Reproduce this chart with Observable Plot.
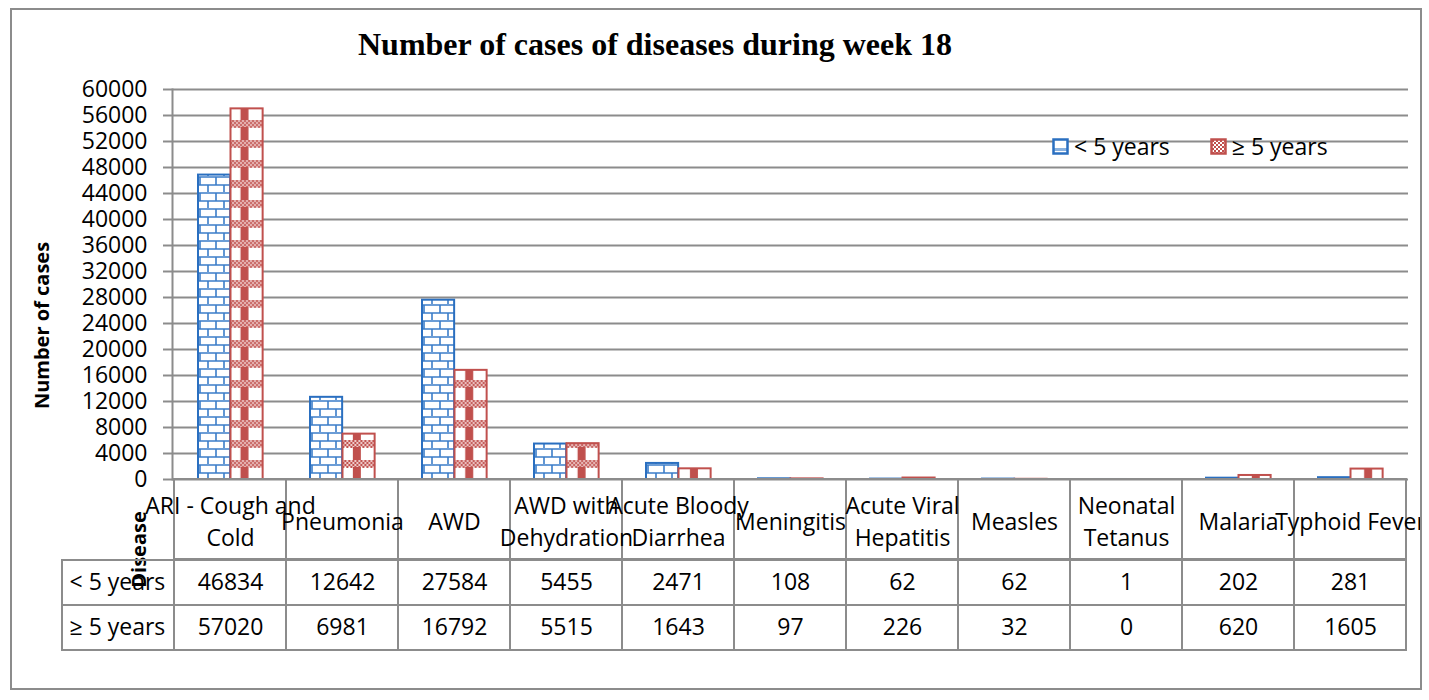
<!DOCTYPE html>
<html>
<head>
<meta charset="utf-8">
<script src="https://cdn.jsdelivr.net/npm/d3@7"></script>
<script src="https://cdn.jsdelivr.net/npm/@observablehq/plot@0.6"></script>
<style>
  html, body { margin: 0; padding: 0; background: #fff; }
  #root { position: relative; width: 1429px; height: 700px; overflow: hidden; font-family: "Open Sans", sans-serif; }
  #border { position: absolute; left: 10px; top: 8px; width: 1412px; height: 682px; box-sizing: border-box; border: 2px solid #8c8c8c; pointer-events: none; }
  #title { position: absolute; left: 0; top: 28px; width: 1310px; text-align: center; font-family: "Liberation Serif", "Times New Roman", serif; font-weight: bold; font-size: 32px; line-height: 32px; color: #000; }
  .layer { position: absolute; left: 0; }
  #legend { position: absolute; left: 1052px; top: 130px; font-size: 23px; line-height: 32px; color: #000; display: flex; align-items: center; white-space: nowrap; }
  #legend svg { vertical-align: middle; margin-right: 5px; }
  #legend .item { display: flex; align-items: center; }
</style>
</head>
<body>
<div id="root">
  <div id="title">Number of cases of diseases during week 18</div>
  <div id="chart" class="layer" style="top:0"></div>
  <div id="header" class="layer" style="top:479px"></div>
  <div id="table" class="layer" style="top:559px"></div>
  <div id="legend"></div>
  <div id="border"></div>
</div>
<script>
// ---- data ----
const diseases = ["ARI - Cough and Cold", "Pneumonia", "AWD", "AWD with Dehydration", "Acute Bloody Diarrhea", "Meningitis", "Acute Viral Hepatitis", "Measles", "Neonatal Tetanus", "Malaria", "Typhoid Fever"];
const headerLabels = ["ARI - Cough and\nCold", "Pneumonia", "AWD", "AWD with\nDehydration", "Acute Bloody\nDiarrhea", "Meningitis", "Acute Viral\nHepatitis", "Measles", "Neonatal\nTetanus", "Malaria", "Typhoid Fever"];
const under5 = [46834, 12642, 27584, 5455, 2471, 108, 62, 62, 1, 202, 281];
const over5 = [57020, 6981, 16792, 5515, 1643, 97, 226, 32, 0, 620, 1605];
const seriesNames = ["< 5 years", "≥ 5 years"];
const yTicks = [0, 4000, 8000, 12000, 16000, 20000, 24000, 28000, 32000, 36000, 40000, 44000, 48000, 52000, 56000, 60000];
const yLabel = "Number of cases";
const xLabel = "Disease";

// ---- layout ----
const W = 1429;
const ML = 172, MR = 21;
const BW = (W - ML - MR) / diseases.length;
const GRID = "#8c8c8c";
const BLUE = "#2a6fc0";
const RED = "#c0504d";
const LABEL_COL = "__label__";

const rows = diseases.flatMap((d, i) => [
  {disease: d, series: seriesNames[0], value: under5[i]},
  {disease: d, series: seriesNames[1], value: over5[i]}
]);

const baseStyle = {fontFamily: "'Open Sans', sans-serif", fontSize: "23px", color: "#000", background: "transparent", overflow: "visible"};

// ---- chart ----
const chart = Plot.plot({
  width: W, height: 482,
  marginLeft: ML, marginRight: MR, marginTop: 89, marginBottom: 3,
  style: baseStyle,
  x: {domain: diseases, padding: 0, axis: null},
  y: {domain: [0, 60000], axis: null},
  marks: [
    Plot.ruleY(yTicks, {stroke: GRID, strokeWidth: 2, strokeOpacity: 1}),
    Plot.axisY({ticks: yTicks, tickSize: 9, tickPadding: 16, stroke: GRID, strokeWidth: 2, strokeOpacity: 1, tickFormat: d => String(d), label: null, fontSize: 23}),
    Plot.frame({anchor: "left", stroke: GRID, strokeWidth: 2}),
    Plot.barY(rows.filter(d => d.series === seriesNames[0]), {x: "disease", y: "value", fill: "url(#brick)", stroke: BLUE, strokeWidth: 2, insetLeft: 24, insetRight: BW - 24 - 32.5}),
    Plot.barY(rows.filter(d => d.series === seriesNames[1]), {x: "disease", y: "value", fill: "url(#weave)", stroke: RED, strokeWidth: 2, insetLeft: 56.5, insetRight: BW - 56.5 - 32.5}),
    Plot.text([yLabel], {text: d => d, frameAnchor: "left", textAnchor: "middle", rotate: -90, dx: -130, dy: 41, fontWeight: "bold", fontSize: 20})
  ]
});

// patterns
let checker = "";
for (let x = 54; x < 92; x += 2) {
  for (let y = 0; y < 7; y += 2) {
    if (((x / 2) + (y / 2)) % 2 === 0) checker += `<rect x="${x}" y="${y}" width="2" height="2" fill="${RED}"/>`;
  }
}
const defs = `
<pattern id="brick" patternUnits="userSpaceOnUse" width="16" height="16">
  <rect width="16" height="16" fill="#fff"/>
  <path d="M0 1H16M0 9H16M8 1V9M0 9V17M16 9V17" stroke="#3b7dc9" stroke-width="1.6" fill="none"/>
</pattern>
<pattern id="weave" patternUnits="userSpaceOnUse" x="${ML}" y="0" width="${BW}" height="20">
  <rect width="${BW}" height="20" fill="#fff"/>
  <rect x="54" y="0" width="38" height="7" fill="#efcdcc"/>
  ${checker}
  <rect x="68.5" y="7" width="8" height="13" fill="${RED}"/>
</pattern>
<pattern id="brickL" patternUnits="userSpaceOnUse" width="16" height="16">
  <rect width="16" height="16" fill="#fff"/>
  <rect y="10" width="16" height="3" fill="#3b7dc9" opacity="0.6"/>
</pattern>
<pattern id="weaveL" patternUnits="userSpaceOnUse" width="4" height="4">
  <rect width="4" height="4" fill="#fff"/>
  <rect width="2" height="2" fill="${RED}"/>
  <rect x="2" y="2" width="2" height="2" fill="${RED}"/>
</pattern>`;
d3.select(chart).insert("defs", ":first-child").html(defs);
document.getElementById("chart").appendChild(chart);

// ---- table header row ----
const header = Plot.plot({
  width: W, height: 80,
  marginLeft: ML - BW, marginRight: MR, marginTop: 0, marginBottom: 0,
  style: {...baseStyle},
  x: {domain: [LABEL_COL, ...diseases], padding: 0, axis: null},
  marks: [
    Plot.cell(diseases, {x: d => d, stroke: GRID, strokeWidth: 2, fill: "none", inset: 0}),
    Plot.text(diseases, {x: d => d, text: (d, i) => headerLabels[i], lineHeight: 1.4, fontSize: 23}),
    Plot.text([xLabel], {x: () => LABEL_COL, text: d => d, rotate: -90, dx: 21, dy: 30, fontWeight: "bold", fontSize: 20})
  ]
});
header.style.clipPath = "inset(-200px 9px -200px -10px)";
document.getElementById("header").appendChild(header);

// ---- table data rows ----
const tableRows = seriesNames.flatMap((s, si) => [
  {col: LABEL_COL, row: s, text: s, isLabel: true},
  ...diseases.map((d, i) => ({col: d, row: s, text: String(si === 0 ? under5[i] : over5[i]), isLabel: false}))
]);
const table = Plot.plot({
  width: W, height: 91,
  marginLeft: ML - BW, marginRight: MR, marginTop: 0, marginBottom: 0,
  style: {...baseStyle},
  x: {domain: [LABEL_COL, ...diseases], padding: 0, axis: null},
  y: {domain: seriesNames, padding: 0, axis: null},
  marks: [
    Plot.cell(tableRows, {x: "col", y: "row", stroke: GRID, strokeWidth: 2, fill: "none", inset: 0}),
    Plot.text(tableRows.filter(d => !d.isLabel), {x: "col", y: "row", text: "text", fontSize: 23}),
    Plot.text(tableRows.filter(d => d.isLabel), {x: "col", y: "row", text: "text", textAnchor: "start", dx: -49, fontSize: 23})
  ]
});
document.getElementById("table").appendChild(table);

// ---- legend ----
const legend = d3.select("#legend");
const fills = ["url(#brickL)", "url(#weaveL)"];
const strokes = [BLUE, RED];
seriesNames.forEach((s, i) => {
  const item = legend.append("div").attr("class", "item").style("margin-right", i === 0 ? "40px" : "0");
  const sw = item.append("svg").attr("width", 17).attr("height", 17);
  sw.append("rect").attr("x", 1.5).attr("y", 1.5).attr("width", 14).attr("height", 14).attr("fill", fills[i]).attr("stroke", strokes[i]).attr("stroke-width", 2.5);
  item.append("span").text(s);
});
</script>
</body>
</html>
